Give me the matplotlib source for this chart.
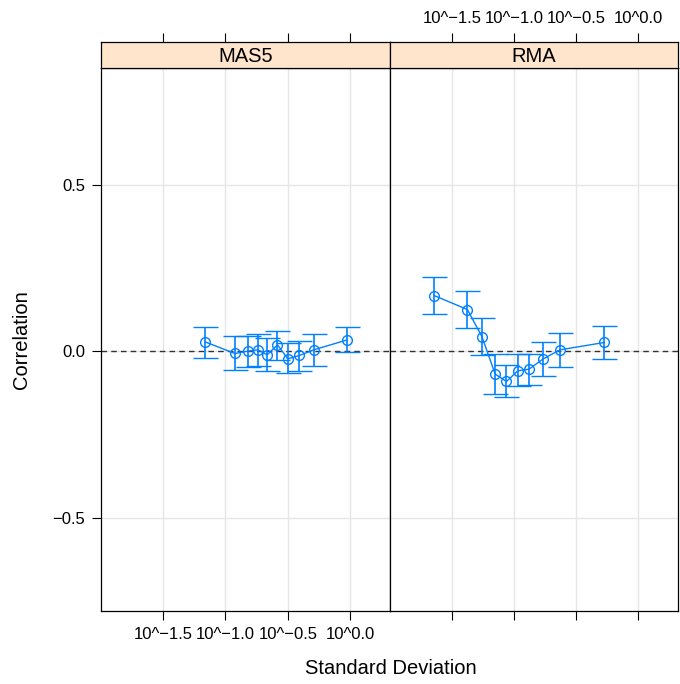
import matplotlib
matplotlib.use("Agg")
import matplotlib.pyplot as plt
import numpy as np

plt.rcParams["font.family"] = ["Liberation Sans", "DejaVu Sans"]

panels = ["MAS5", "RMA"]

# log10(standard deviation), correlation, lower / upper error bar ends
mas5_x = [-1.164, -0.925, -0.819, -0.741, -0.666, -0.583, -0.500, -0.409, -0.291, -0.022]
mas5_y = [0.028, -0.007, 0.000, 0.004, -0.011, 0.019, -0.023, -0.013, 0.004, 0.034]
mas5_lo = [-0.020, -0.058, -0.048, -0.044, -0.060, -0.027, -0.066, -0.060, -0.044, -0.004]
mas5_hi = [0.073, 0.046, 0.047, 0.051, 0.040, 0.060, 0.025, 0.030, 0.052, 0.073]

rma_x = [-1.644, -1.376, -1.258, -1.152, -1.061, -0.970, -0.879, -0.769, -0.630, -0.274]
rma_y = [0.167, 0.125, 0.043, -0.069, -0.091, -0.059, -0.054, -0.024, 0.004, 0.026]
rma_lo = [0.111, 0.069, -0.013, -0.128, -0.139, -0.106, -0.101, -0.074, -0.047, -0.023]
rma_hi = [0.222, 0.181, 0.099, -0.010, -0.042, -0.010, -0.009, 0.026, 0.055, 0.075]

xticks = [-1.5, -1.0, -0.5, 0.0]
xticklabels = ["10^\u22121.5", "10^\u22121.0", "10^\u22120.5", "10^0.0"]
yticks = [-0.5, 0.0, 0.5]
yticklabels = ["\u22120.5", "0.0", "0.5"]

blue = "#0080ff"
W, H = 680, 684
fig = plt.figure(figsize=(W / 100, H / 100), dpi=100)

lefts = [101, 390]
rights = [390, 678]
ptop, pbot = 68, 611
stop = 42

data = [(mas5_x, mas5_y, mas5_lo, mas5_hi), (rma_x, rma_y, rma_lo, rma_hi)]

for i, name in enumerate(panels):
    l, r = lefts[i], rights[i]
    ax = fig.add_axes([l / W, 1 - pbot / H, (r - l) / W, (pbot - ptop) / H])
    ax.set_xlim(-1.999, 0.32)
    ax.set_ylim(-0.78, 0.85)
    for t in xticks:
        ax.axvline(t, color="#e6e6e6", lw=1, zorder=0)
    for t in yticks:
        ax.axhline(t, color="#e6e6e6", lw=1, zorder=0)
    ax.axhline(0, color="#333333", lw=1, ls=(0, (4, 3)), zorder=1)

    x, y, lo, hi = data[i]
    x = np.array(x)
    y = np.array(y)
    err = [y - np.array(lo), np.array(hi) - y]
    ax.errorbar(x, y, yerr=err, color=blue, lw=1, capsize=9, capthick=1,
                elinewidth=1.2, marker="o", markersize=7, mfc="none",
                mec=blue, mew=1, zorder=3)

    ax.set_xticks(xticks)
    ax.set_yticks(yticks)
    ax.tick_params(direction="out", length=6.5, width=0.8, labelsize=12, pad=5)
    if i == 0:
        ax.set_xticklabels(xticklabels)
        ax.set_yticklabels(yticklabels)
    else:
        ax.set_xticklabels([])
        ax.tick_params(axis="y", left=False, labelleft=False)
    for s in ax.spines.values():
        s.set_linewidth(0.9)

    # strip
    sx = fig.add_axes([l / W, 1 - ptop / H, (r - l) / W, (ptop - stop) / H])
    sx.set_facecolor("#ffe5cc")
    sx.set_xlim(-1.999, 0.32)
    sx.set_ylim(0, 1)
    sx.set_yticks([])
    sx.set_xticks(xticks)
    sx.xaxis.set_ticks_position("top")
    sx.tick_params(direction="out", length=6.5, width=0.8, labelsize=12, pad=5)
    if i == 1:
        sx.set_xticklabels(xticklabels)
    else:
        sx.set_xticklabels([])
    sx.text(0.5, 0.45, name, transform=sx.transAxes, ha="center", va="center",
            fontsize=14.5)
    for s in sx.spines.values():
        s.set_linewidth(0.9)

fig.text(391 / W, 1 - 669 / H, "Standard Deviation", ha="center", va="center",
         fontsize=14.5)
fig.text(22 / W, 1 - 340 / H, "Correlation", ha="center", va="center",
         rotation=90, fontsize=14.5)

fig.savefig("out.png", dpi=100)
